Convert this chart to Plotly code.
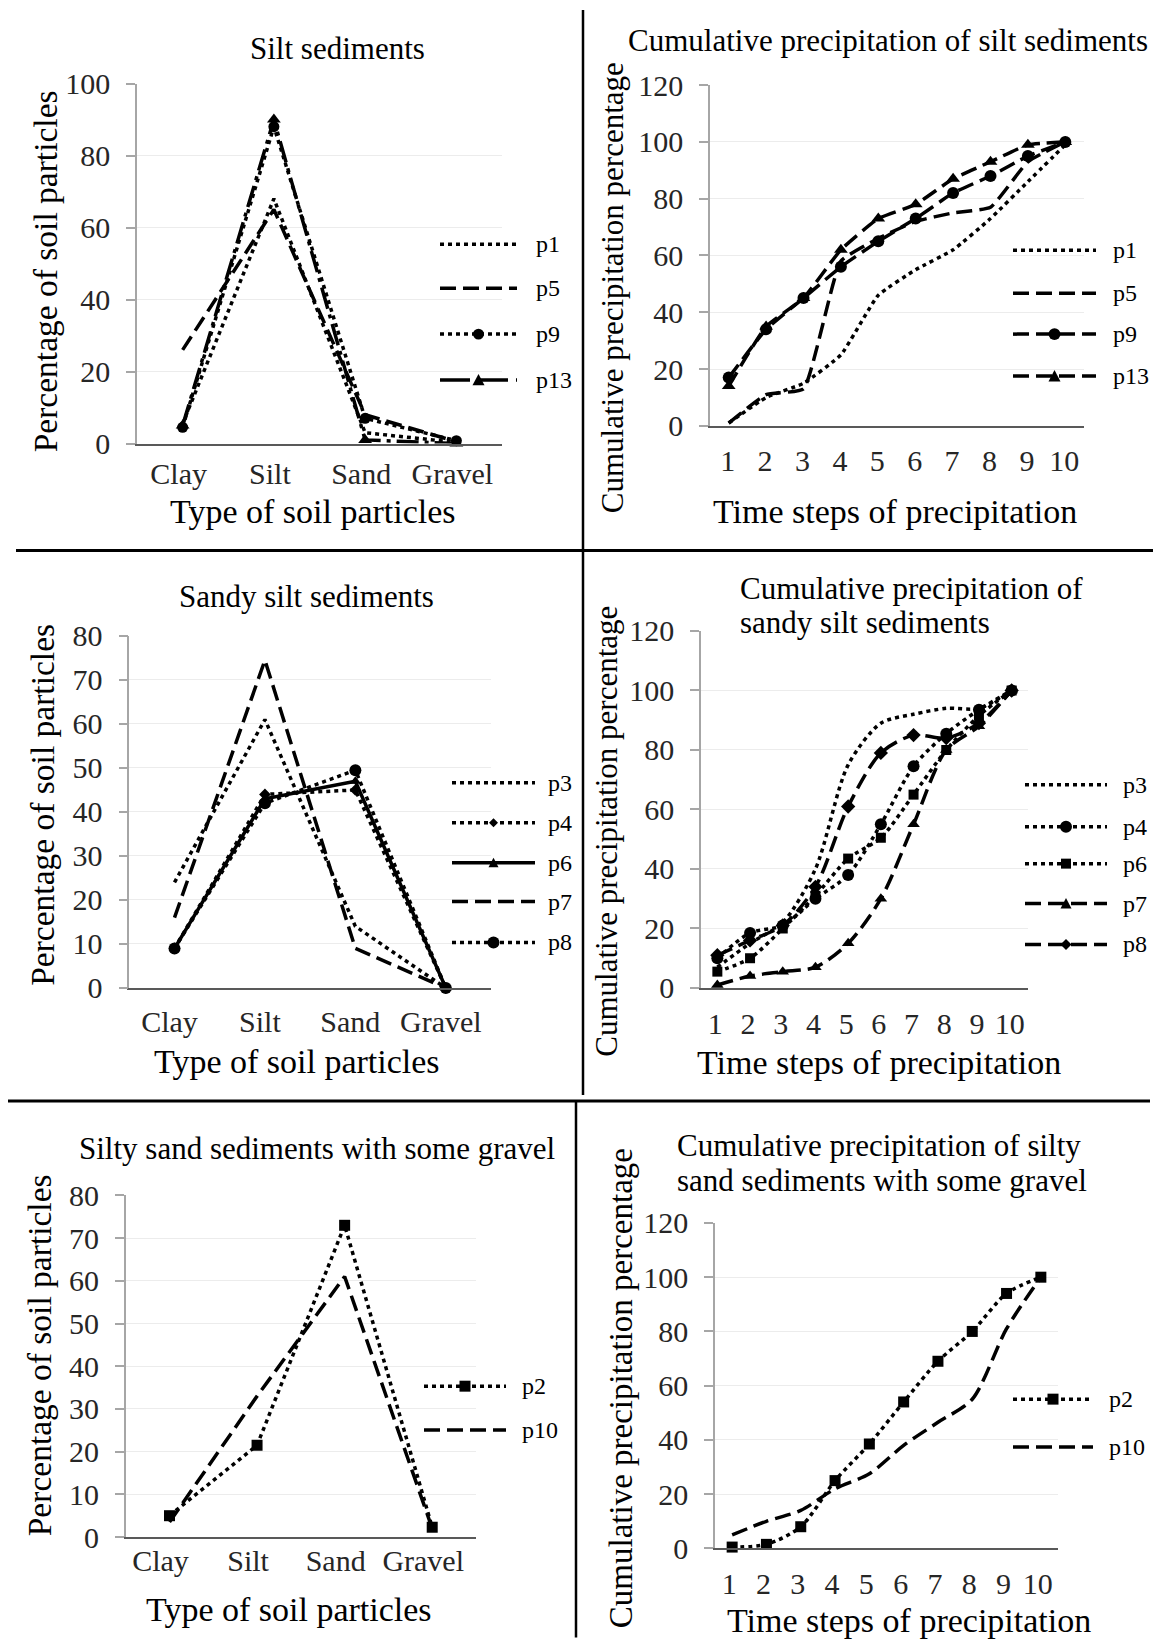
import plotly.graph_objects as go

W, H = 1153, 1640
FONT = "Liberation Serif, Times New Roman, serif"

# ---------------- data ----------------
categories = ["Clay", "Silt", "Sand", "Gravel"]
steps = [1, 2, 3, 4, 5, 6, 7, 8, 9, 10]

# Panel 1: Silt sediments
silt_names = ["p1", "p5", "p9", "p13"]
silt_p1 = [5.5, 68, 3, 0.3]
silt_p5 = [26, 65, 8, 0.5]
silt_p9 = [4.5, 88, 7, 0.8]
silt_p13 = [5, 90, 1, 0]

# Panel 2: Cumulative precipitation of silt sediments
cum_silt_p1 = [1, 10, 15, 25, 46, 55, 62, 73, 86, 99]
cum_silt_p5 = [1, 11, 13, 58, 66, 72, 75, 77, 93, 100]
cum_silt_p9 = [17, 34, 45, 56, 65, 73, 82, 88, 95, 100]
cum_silt_p13 = [14, 35, 45, 62, 73, 78, 87, 93, 99, 100]

# Panel 3: Sandy silt sediments
sandy_names = ["p3", "p4", "p6", "p7", "p8"]
sandy_p3 = [24, 61, 14, 0]
sandy_p4 = [9, 44, 45, 0]
sandy_p6 = [9, 43, 47, 0]
sandy_p7 = [16, 74.5, 9, 0]
sandy_p8 = [9, 42, 49.5, 0]

# Panel 4: Cumulative precipitation of sandy silt sediments
cum_sandy_p3 = [7, 15, 22, 40, 75, 89, 92, 94, 94, 100]
cum_sandy_p4 = [10, 18.5, 21, 30, 38, 55, 74.5, 85.5, 93.5, 100]
cum_sandy_p6 = [5.5, 10, 20, 31, 43.5, 50.5, 65, 80, 91.5, 100]
cum_sandy_p7 = [1, 4, 5.5, 7, 15, 30, 55, 80, 88, 100]
cum_sandy_p8 = [11, 16, 21, 34, 61, 79, 85, 84, 89, 100]

# Panel 5: Silty sand sediments with some gravel
gravel_names = ["p2", "p10"]
gravel_p2 = [5, 21.5, 73, 2.3]
gravel_p10 = [3.5, 33, 61, 2]

# Panel 6: Cumulative precipitation of silty sand sediments with some gravel
cum_gravel_p2 = [0.5, 1.5, 8, 25, 38.5, 54, 69, 80, 94, 100]
cum_gravel_p10 = [5, 10, 14, 22, 27.5, 38, 46.5, 55, 81, 100]

titles = ["Silt sediments",
          "Cumulative precipitation of silt sediments",
          "Sandy silt sediments",
          ["Cumulative precipitation of", "sandy silt sediments"],
          "Silty sand sediments with some gravel",
          ["Cumulative precipitation of silty", "sand sediments with some gravel"]]
x_titles = ["Type of soil particles", "Time steps of precipitation"]
y_titles = ["Percentage of soil particles", "Cumulative precipitation percentage"]

# ---------------- styles ----------------
DOT = "4px,4px"
DASH = "16px,7px"
DASHDOT = "22px,6px,4px,6px"
SOLID = "solid"
LW = 3.5
TICK = 30


def px(x):
    return x / W


def py(y):
    # vertical position in page pixels (compensated for the capture's vertical mapping)
    t = (y - 15) / 0.982
    return 1 - t / H


fig = go.Figure()

# panel geometry in pixels: (left, right, top, bottom), y range, dtick, x kind, tick standoff/shift
panels = [
    dict(box=(137, 502, 81.7, 442.7), yr=[0, 100], dt=20, cat=True, xso=2, xsh=-4),
    dict(box=(710, 1084, 83.3, 425), yr=[0, 120], dt=20, cat=False, xso=7, xsh=-1),
    dict(box=(129.3, 491, 635.7, 988.7), yr=[0, 80], dt=10, cat=True, xso=6, xsh=-5),
    dict(box=(701, 1028, 630.7, 988.7), yr=[0, 120], dt=20, cat=False, xso=8, xsh=-2),
    dict(box=(125.7, 476, 1196.7, 1539.3), yr=[0, 80], dt=10, cat=True, xso=-4, xsh=-9),
    dict(box=(715, 1058, 1224.3, 1550.7), yr=[0, 120], dt=20, cat=False, xso=8, xsh=-3),
]

layout_axes = {}
for i, p in enumerate(panels, start=1):
    l, r, t, b = p["box"]
    xa = dict(domain=[px(l), px(r)], anchor=f"y{i}", showline=True, linecolor="#595959",
              linewidth=2, ticks="", showgrid=False, zeroline=False,
              tickfont=dict(family=FONT, size=TICK, color="#262626"),
              ticklabelstandoff=p["xso"], ticklabelshift=p["xsh"], fixedrange=True)
    if p["cat"]:
        xa.update(type="category", range=[-0.5, 3.5])
    else:
        xa.update(range=[0.5, 10.5], tickmode="array", tickvals=steps,
                  ticktext=[str(s) for s in steps])
    ya = dict(domain=[py(b), py(t)], anchor=f"x{i}", range=p["yr"], dtick=p["dt"],
              showline=True, linecolor="#a6a6a6", linewidth=1.5, ticks="outside",
              ticklen=9, tickcolor="#a6a6a6", tickwidth=1.5, showgrid=True,
              gridcolor="#ececec", gridwidth=1, zeroline=False,
              tickfont=dict(family=FONT, size=TICK, color="#262626"),
              ticklabelstandoff=10, fixedrange=True)
    key = "" if i == 1 else str(i)
    layout_axes[f"xaxis{key}"] = xa
    layout_axes[f"yaxis{key}"] = ya


def add(panel, x, y, dash, symbol=None, size=11, shape="linear", smoothing=0.0):
    key = "" if panel == 1 else str(panel)
    kw = dict(x=x, y=y, xaxis=f"x{key}", yaxis=f"y{key}", showlegend=False,
              cliponaxis=False, hoverinfo="skip")
    line = dict(color="black", width=LW, dash=dash, shape=shape)
    if shape == "spline":
        line["smoothing"] = smoothing
    if symbol:
        kw.update(mode="lines+markers", marker=dict(symbol=symbol, size=size, color="black"))
    else:
        kw.update(mode="lines")
    fig.add_trace(go.Scatter(line=line, **kw))


# Panel 1
add(1, categories, silt_p1, DOT)
add(1, categories, silt_p5, DASH)
add(1, categories, silt_p9, DOT, "circle", 11)
add(1, categories, silt_p13, DASHDOT, "triangle-up", 12)
# Panel 2
sp2 = dict(shape="spline", smoothing=0.4)
add(2, steps, cum_silt_p1, DOT, **sp2)
add(2, steps, cum_silt_p5, DASH, **sp2)
add(2, steps, cum_silt_p9, DASH, "circle", 12, **sp2)
add(2, steps, cum_silt_p13, DASH, "triangle-up", 12, **sp2)
# Panel 3
add(3, categories, sandy_p3, DOT)
add(3, categories, sandy_p4, DOT, "diamond", 9)
add(3, categories, sandy_p6, SOLID, "triangle-up", 10)
add(3, categories, sandy_p7, DASH)
add(3, categories, sandy_p8, DOT, "circle", 12)
# Panel 4
sp4 = dict(shape="spline", smoothing=0.8)
add(4, steps, cum_sandy_p3, DOT, **sp4)
add(4, steps, cum_sandy_p4, DOT, "circle", 12, **sp4)
add(4, steps, cum_sandy_p6, DOT, "square", 10, **sp4)
add(4, steps, cum_sandy_p7, DASH, "triangle-up", 11, **sp4)
add(4, steps, cum_sandy_p8, DASH, "diamond", 11, **sp4)
# Panel 5
add(5, categories, gravel_p2, DOT, "square", 11)
add(5, categories, gravel_p10, DASH)
# Panel 6
sp6 = dict(shape="spline", smoothing=0.8)
add(6, steps, cum_gravel_p2, DOT, "square", 11, **sp6)
add(6, steps, cum_gravel_p10, DASH, **sp6)

shapes = []
annotations = []


def marker_shape(sym, xc, yc, s=11):
    h = s / 2
    if sym == "circle":
        return dict(type="circle", xref="paper", yref="paper", x0=px(xc - h), x1=px(xc + h),
                    y0=py(yc + h), y1=py(yc - h), fillcolor="black", line=dict(width=0))
    if sym == "square":
        return dict(type="rect", xref="paper", yref="paper", x0=px(xc - h), x1=px(xc + h),
                    y0=py(yc + h), y1=py(yc - h), fillcolor="black", line=dict(width=0))
    if sym == "triangle-up":
        path = (f"M {px(xc - h)},{py(yc + h * 0.9)} L {px(xc + h)},{py(yc + h * 0.9)} "
                f"L {px(xc)},{py(yc - h)} Z")
    else:  # diamond
        path = (f"M {px(xc - h)},{py(yc)} L {px(xc)},{py(yc - h)} L {px(xc + h)},{py(yc)} "
                f"L {px(xc)},{py(yc + h)} Z")
    return dict(type="path", xref="paper", yref="paper", path=path, fillcolor="black",
                line=dict(width=0))


def legend(x0, x1, tx, ys, names, styles):
    for y, name, (dash, sym, sz) in zip(ys, names, styles):
        shapes.append(dict(type="line", xref="paper", yref="paper", x0=px(x0), x1=px(x1),
                           y0=py(y), y1=py(y), line=dict(color="black", width=LW, dash=dash)))
        if sym:
            shapes.append(marker_shape(sym, (x0 + x1) / 2, y, sz))
        annotations.append(dict(text=name, x=px(tx), y=py(y), xref="paper", yref="paper",
                                xanchor="left", yanchor="middle", showarrow=False,
                                font=dict(family=FONT, size=24, color="black")))


legend(440, 517, 534, [243, 287, 333, 379], silt_names,
       [(DOT, None, 0), (DASH, None, 0), (DOT, "circle", 11), ("30px,8px", "triangle-up", 12)])
legend(1013, 1096, 1111, [249, 292, 333, 375], silt_names,
       [(DOT, None, 0), (DASH, None, 0), (DASH, "circle", 12), (DASH, "triangle-up", 12)])
legend(452, 535, 546, [783, 823, 863, 902, 943], sandy_names,
       [(DOT, None, 0), (DOT, "diamond", 9), (SOLID, "triangle-up", 10), (DASH, None, 0),
        (DOT, "circle", 12)])
legend(1025, 1107, 1121, [785, 827, 864, 904, 945], sandy_names,
       [(DOT, None, 0), (DOT, "circle", 12), (DOT, "square", 10), (DASH, "triangle-up", 11),
        (DASH, "diamond", 11)])
legend(424, 506, 520, [1388, 1432], gravel_names,
       [(DOT, "square", 11), (DASH, None, 0)])
legend(1013, 1093, 1107, [1401, 1449], gravel_names,
       [(DOT, "square", 11), (DASH, None, 0)])


def text(t, x, y, size, xanchor="center", angle=0, color="black"):
    annotations.append(dict(text=t, x=px(x), y=py(y), xref="paper", yref="paper",
                            xanchor=xanchor, yanchor="middle", showarrow=False,
                            textangle=angle, align="left",
                            font=dict(family=FONT, size=size, color=color)))


# Panel titles
text(titles[0], 337, 47, 31)
text(titles[1], 888, 39, 31)
text(titles[2], 306, 596, 31)
text(titles[3][0], 738, 588, 31, xanchor="left")
text(titles[3][1], 738, 622, 31, xanchor="left")
text(titles[4], 317, 1150, 31)
text(titles[5][0], 675, 1147, 31, xanchor="left")
text(titles[5][1], 675, 1182, 31, xanchor="left")

# Axis titles
text(x_titles[0], 313, 511, 34)
text(x_titles[1], 895, 511, 34)
text(x_titles[0], 297, 1062, 34)
text(x_titles[1], 879, 1063, 34)
text(x_titles[0], 289, 1612, 34)
text(x_titles[1], 909, 1623, 34)
text(y_titles[0], 45, 270, 33.5, angle=-90)
text(y_titles[1], 612, 287, 31, angle=-90)
text(y_titles[0], 43, 805, 33.5, angle=-90)
text(y_titles[1], 607, 832, 31, angle=-90)
text(y_titles[0], 39, 1357, 33.5, angle=-90)
text(y_titles[1], 621, 1390, 33, angle=-90)


# Panel dividers
def seg(x0, y0, x1, y1, w=3):
    shapes.append(dict(type="line", xref="paper", yref="paper", x0=px(x0), y0=py(y0),
                       x1=px(x1), y1=py(y1), line=dict(color="black", width=w)))


seg(583, 8, 583, 550, 2.5)
seg(16, 550, 1153, 550, 3)
seg(583, 550, 583, 1096, 2.5)
seg(8, 1102, 1150, 1102, 3)
seg(576, 1102, 576, 1640, 2.5)

fig.update_layout(width=W, height=H, margin=dict(l=0, r=0, t=0, b=0),
                  paper_bgcolor="white", plot_bgcolor="white",
                  shapes=shapes, annotations=annotations, showlegend=False,
                  font=dict(family=FONT, color="black"), **layout_axes)

fig.write_html("out.html", include_plotlyjs=True,
               config={"displayModeBar": False, "responsive": False},
               post_script="document.body.style.margin='0';"
                           "document.body.style.padding='0';"
                           "document.documentElement.style.overflow='hidden';")
